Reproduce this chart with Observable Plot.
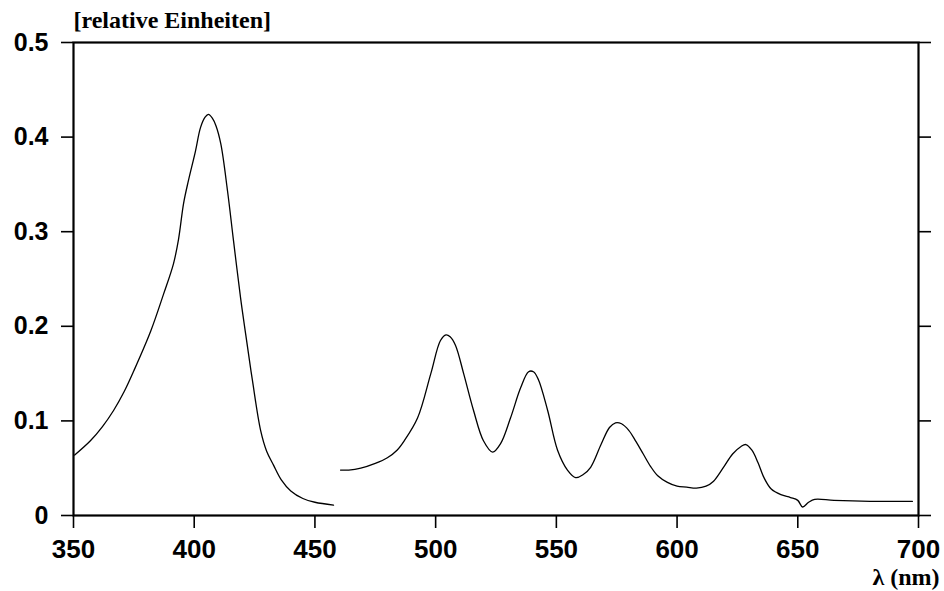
<!DOCTYPE html>
<html>
<head>
<meta charset="utf-8">
<script src="https://cdn.jsdelivr.net/npm/d3@7"></script>
<script src="https://cdn.jsdelivr.net/npm/@observablehq/plot@0.6"></script>
<style>
  html, body { margin: 0; padding: 0; background: #fff; }
  svg { display: block; }
</style>
</head>
<body>
<div id="chart"></div>
<script>
// Wavelengths (nm) and relative values, left band (Soret)
const leftWavelength = [350.5, 357, 362, 366.6, 371, 375, 382, 387.3, 391.4, 393.5, 395.6, 397.6, 400.5, 402.6, 404.5, 405.9, 407.5, 409, 411, 413.8, 416.3, 419.2, 421.3, 424.1, 427.5, 430, 432.9, 436, 440, 445, 450, 457.7];
const leftValue = [0.064, 0.079, 0.094, 0.111, 0.131, 0.153, 0.195, 0.234, 0.266, 0.292, 0.330, 0.354, 0.385, 0.410, 0.421, 0.424, 0.420, 0.412, 0.393, 0.343, 0.290, 0.230, 0.192, 0.143, 0.090, 0.068, 0.053, 0.038, 0.026, 0.018, 0.014, 0.011];

// Right band (Q bands)
const rightWavelength = [460.6, 464, 469, 475, 480, 484, 487, 492.5, 498, 502, 504.3, 506, 508.2, 511.6, 515.7, 519.8, 523.6, 526.9, 531, 535.2, 538.5, 540.5, 542.5, 546.4, 550.5, 554.6, 558, 561, 564.2, 568.5, 572, 574.5, 577, 580, 583, 586, 589, 592, 596, 600, 604, 608, 612, 615, 619, 623, 626.5, 628.5, 631, 633.5, 636, 639, 643, 647, 650, 652, 654.5, 657, 665, 680, 697.5];
const rightValue = [0.048, 0.048, 0.050, 0.055, 0.061, 0.069, 0.079, 0.103, 0.150, 0.185, 0.191, 0.189, 0.180, 0.150, 0.111, 0.079, 0.067, 0.076, 0.103, 0.135, 0.152, 0.152, 0.144, 0.111, 0.069, 0.048, 0.040, 0.043, 0.051, 0.075, 0.093, 0.098, 0.097, 0.090, 0.078, 0.065, 0.052, 0.042, 0.035, 0.031, 0.030, 0.029, 0.031, 0.036, 0.050, 0.065, 0.073, 0.075, 0.069, 0.056, 0.040, 0.028, 0.022, 0.019, 0.016, 0.009, 0.014, 0.017, 0.016, 0.015, 0.015];

const xTicks = [350, 400, 450, 500, 550, 600, 650, 700];
const yTicks = [0, 0.1, 0.2, 0.3, 0.4, 0.5];
const yTitle = "[relative Einheiten]";
const xTitle = "λ (nm)";

const data = [
  ...leftWavelength.map((w, i) => ({wl: w, v: leftValue[i], band: "left"})),
  ...rightWavelength.map((w, i) => ({wl: w, v: rightValue[i], band: "right"}))
];

const sans = "'Liberation Sans', Arial, sans-serif";
const serif = "'Liberation Serif', 'Times New Roman', serif";

const chart = Plot.plot({
  width: 944,
  height: 591,
  marginLeft: 73,
  marginRight: 26,
  marginTop: 42,
  marginBottom: 76,
  style: {background: "#fff", color: "#000"},
  x: {domain: [350, 700]},
  y: {domain: [0, 0.5]},
  marks: [
    Plot.frame({stroke: "#000", strokeWidth: 2.2}),
    Plot.axisY({
      anchor: "left", ticks: yTicks, tickSize: 12, tickPadding: 13,
      tickFormat: d => d === 0 ? "0" : d3.format(".1f")(d),
      label: null, fontSize: 25, fontWeight: "bold", fontFamily: sans,
      strokeWidth: 1.6
    }),
    Plot.axisY({
      anchor: "right", ticks: yTicks, tickSize: 12, tickFormat: () => "",
      label: null, strokeWidth: 1.6
    }),
    Plot.axisX({
      anchor: "bottom", ticks: xTicks, tickSize: 13, tickPadding: 11,
      tickFormat: d => String(d),
      label: null, fontSize: 26, fontWeight: "bold", fontFamily: sans,
      strokeWidth: 1.6
    }),
    Plot.line(data, {
      x: "wl", y: "v", z: "band", stroke: "#000", strokeWidth: 1.3,
      curve: "catmull-rom"
    }),
    Plot.text([yTitle], {
      frameAnchor: "top-left", textAnchor: "start", dx: 0, dy: -32,
      fontSize: 24, fontWeight: "bold", fontFamily: serif, fill: "#000"
    }),
    Plot.text([xTitle], {
      frameAnchor: "bottom-right", textAnchor: "end", dx: 21, dy: 69,
      fontSize: 24, fontWeight: "bold", fontFamily: serif, fill: "#000"
    })
  ]
});

document.getElementById("chart").appendChild(chart);
</script>
</body>
</html>
